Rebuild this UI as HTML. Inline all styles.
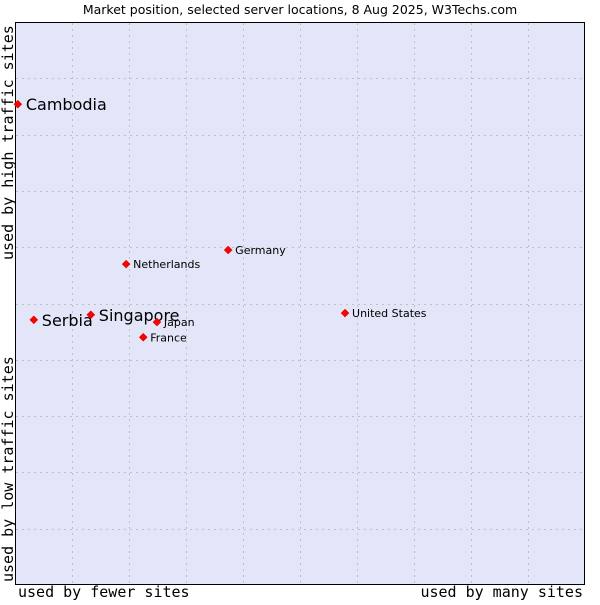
<!DOCTYPE html>
<html><head><meta charset="utf-8"><style>
body{margin:0;background:#fff;width:600px;height:600px;overflow:hidden}
svg text{font-family:"DejaVu Sans","Liberation Sans",sans-serif;fill:#000}
.mono{font-family:"DejaVu Sans Mono","Liberation Mono",monospace;font-size:15px}
</style></head><body>
<svg width="600" height="600">
<text x="300" y="14" text-anchor="middle" font-size="12.5">Market position, selected server locations, 8 Aug 2025, W3Techs.com</text>
<rect x="15.5" y="22.5" width="569" height="562" fill="#e3e5f8" stroke="#000"/>
<g id="grid"></g>
<g id="pts"></g>
<text class="mono" x="18" y="597">used by fewer sites</text>
<text class="mono" x="583" y="597" text-anchor="end">used by many sites</text>
<text class="mono" transform="translate(13,260) rotate(-90)">used by high traffic sites</text>
<text class="mono" transform="translate(13,582) rotate(-90)">used by low traffic sites</text>
</svg>
<script>
const names=["Cambodia","Serbia","Singapore","Netherlands","Germany","Japan","France","United States"];
const xVals=[0.5,3.3,13.3,19.5,37.4,24.9,22.5,57.9];
const yVals=[85.4,47.1,48.0,57.0,59.5,46.7,44.0,48.3];
const big=[true,true,true,false,false,false,false,false];
const X0=15,W=570,Y1=585,H=563;
const sx=v=>X0+v/100*W, sy=v=>Y1-v/100*H;
const ns="http://www.w3.org/2000/svg";
const grid=document.getElementById('grid');
for(let i=1;i<10;i++){
 const x=Math.round(X0+i*57)+0.5;
 const l=document.createElementNS(ns,'line');
 l.setAttribute('x1',x);l.setAttribute('x2',x);l.setAttribute('y1',23);l.setAttribute('y2',584);
 l.setAttribute('stroke','#c0c0c0');l.setAttribute('stroke-dasharray','2,4');
 
 
 grid.appendChild(l);
 const y=Math.round(22+i*56.3)+0.5;
 const h=document.createElementNS(ns,'line');
 h.setAttribute('x1',16);h.setAttribute('x2',584);h.setAttribute('y1',y);h.setAttribute('y2',y);
 h.setAttribute('stroke','#c0c0c0');h.setAttribute('stroke-dasharray','2,4');
 
 
 grid.appendChild(h);
}
const pts=document.getElementById('pts');
names.forEach((n,i)=>{
 const x=sx(xVals[i]),y=sy(yVals[i]);
 const p=document.createElementNS(ns,'polygon');
 p.setAttribute('points',`${x},${y-4} ${x+4},${y} ${x},${y+4} ${x-4},${y}`);
 p.setAttribute('fill','#f00');p.setAttribute('stroke','#c00');p.setAttribute('stroke-width','0.5');
 
 
 pts.appendChild(p);
 const t=document.createElementNS(ns,'text');
 t.setAttribute('x',x+(big[i]?8:7));t.setAttribute('y',y+(big[i]?6:4));
 t.setAttribute('font-size',big[i]?16:11);
 t.textContent=n;
 
 
 pts.appendChild(t);
});
</script>
</body></html>
